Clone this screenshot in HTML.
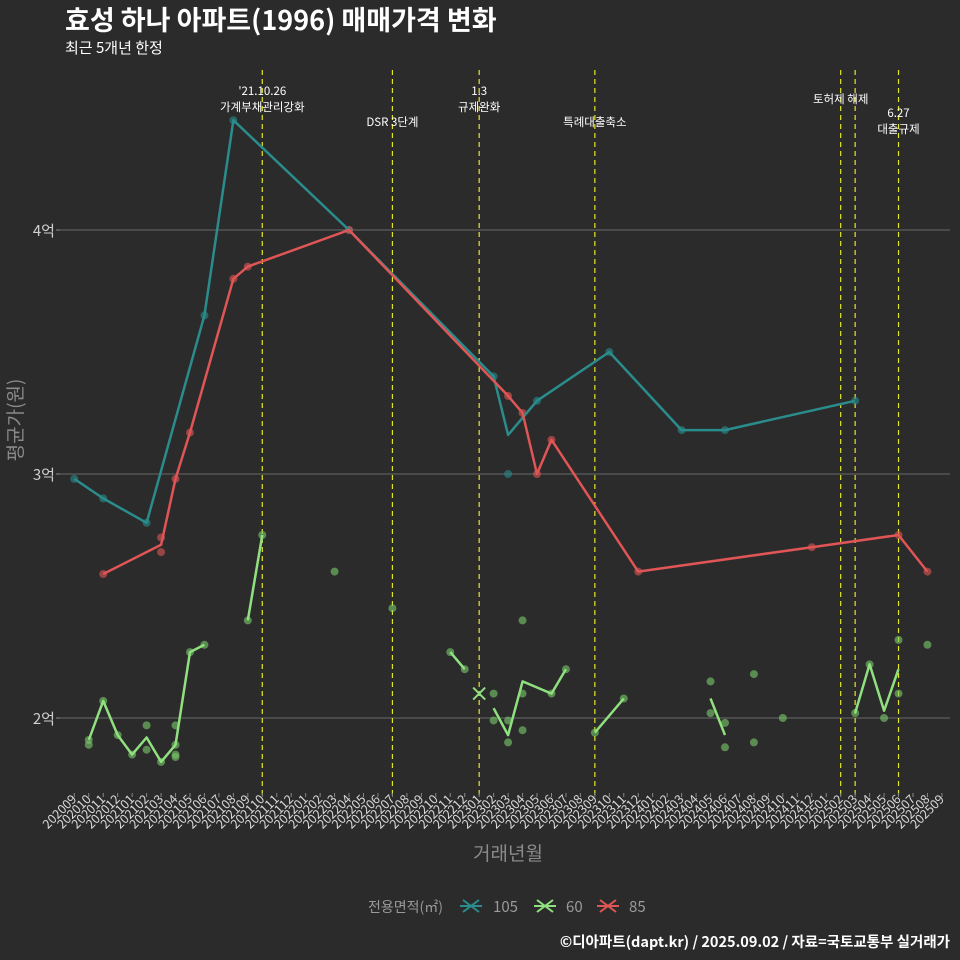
<!DOCTYPE html>
<html><head><meta charset="utf-8">
<style>
html,body{margin:0;padding:0;background:#2b2b2b;}
svg{display:block;font-family:"Noto Sans CJK KR","Liberation Sans",sans-serif;}
</style></head>
<body>
<svg id="chart" width="960" height="960" viewBox="0 0 960 960">
<rect width="960" height="960" fill="#2b2b2b"/>
<text x="65" y="30" font-size="27" font-weight="bold" fill="#ffffff">효성 하나 아파트(1996) 매매가격 변화</text>
<text x="65" y="53" font-size="15" fill="#ffffff">최근 5개년 한정</text>
<g id="grid"></g>
<g id="vlines"></g>
<g id="series"></g>
<g id="xaxis"></g>
<g id="yaxis"></g>
<text x="508" y="860" font-size="19" fill="#8a8a8a" text-anchor="middle">거래년월</text>
<text transform="translate(22,420) rotate(-90)" font-size="19" fill="#8a8a8a" text-anchor="middle">평균가(원)</text>
<g>
<text x="368" y="912" font-size="14" fill="#9a9a9a">전용면적(㎡)</text>
<g><path d="M460,906h22M463,900l16,12M463,912l16,-12" stroke="#2a8c8c" stroke-width="2"/><text x="493" y="912" font-size="15" fill="#9a9a9a">105</text></g>
<g><path d="M534,906h22M537,900l16,12M537,912l16,-12" stroke="#90e080" stroke-width="2"/><text x="566" y="912" font-size="15" fill="#9a9a9a">60</text></g>
<g><path d="M597,906h22M600,900l16,12M600,912l16,-12" stroke="#e05555" stroke-width="2"/><text x="629" y="912" font-size="15" fill="#9a9a9a">85</text></g>
</g>
<text x="950" y="947" font-size="14.5" font-weight="bold" fill="#ffffff" text-anchor="end">©디아파트(dapt.kr) / 2025.09.02 / 자료=국토교통부 실거래가</text>
</svg>
<script>
const months = [];
for (let y = 2020, m = 9; months.length < 61; ) { months.push(String(y) + String(m).padStart(2,'0')); m++; if (m > 12) { m = 1; y++; } }
const yTicks = [2, 3, 4];
const yTickLabels = ['2억', '3억', '4억'];
const line105 = [[0,2.98],[2,2.90],[5,2.80],[9,3.65],[11,4.45],[19,4.0],[29,3.40],[30,3.16],[32,3.30],[37,3.50],[42,3.18],[45,3.18],[54,3.30]];
const dots105 = [[0,2.98],[2,2.90],[5,2.80],[9,3.65],[11,4.45],[19,4.0],[29,3.40],[30,3.0],[32,3.30],[37,3.50],[42,3.18],[45,3.18],[54,3.30]];
const line85 = [[2,2.59],[6,2.71],[7,2.98],[8,3.17],[11,3.80],[12,3.85],[19,4.0],[30,3.32],[31,3.25],[32,3.0],[33,3.14],[39,2.60],[51,2.70],[57,2.75],[59,2.60]];
const dots85 = [[2,2.59],[6,2.74],[6,2.68],[7,2.98],[8,3.17],[11,3.80],[12,3.85],[19,4.0],[30,3.32],[31,3.25],[32,3.0],[33,3.14],[39,2.60],[51,2.70],[57,2.75],[59,2.60]];
const line60 = [[1,1.91],[2,2.07],[3,1.93],[4,1.85],[5,1.92],[6,1.82],[7,1.89],[8,2.27],[9,2.30],null,[12,2.40],[13,2.75],null,[26,2.27],[27,2.20],null,[29,2.04],[30,1.93],[31,2.15],[33,2.10],[34,2.20],null,[36,1.94],[38,2.08],null,[44,2.08],[45,1.93],null,[54,2.02],[55,2.22],[56,2.03],[57,2.20]];
const dots60 = [[1,1.91],[1,1.89],[2,2.07],[3,1.93],[4,1.85],[5,1.97],[5,1.87],[6,1.82],[7,1.97],[7,1.89],[7,1.84],[7,1.85],[8,2.27],[9,2.30],[12,2.40],[13,2.75],[18,2.60],[22,2.45],[26,2.27],[27,2.20],[29,2.10],[29,1.99],[30,1.99],[30,1.90],[31,2.10],[31,1.95],[31,2.40],[33,2.10],[34,2.20],[36,1.94],[38,2.08],[44,2.15],[44,2.02],[45,1.98],[45,1.88],[47,2.18],[47,1.90],[49,2.00],[54,2.02],[55,2.22],[56,2.00],[57,2.32],[57,2.10],[59,2.30]];
const highlight60 = [28, 2.10];
const events = [13, 22, 28, 36, 53, 54, 57];
const eventLabels = [["'21.10.26","가계부채관리강화"],["DSR 3단계"],["1.3","규제완화"],["특례대출축소"],["토허제 해제"],[],["6.27","대출규제"]];
const eventLabelY = [[91,107],[122],[91,107],[122],[99],[],[113,129]];

const NS = 'http://www.w3.org/2000/svg';
const X0 = 74.3, STEP = 14.46;
function xs(i){ return X0 + i*STEP; }
function ys(v){ return 474 - (v-3)*244; }
function mk(tag, attrs, parent){ const e=document.createElementNS(NS,tag); for(const k in attrs) e.setAttribute(k,attrs[k]); parent.appendChild(e); return e; }

const grid=document.getElementById('grid'), yaxis=document.getElementById('yaxis');
yTicks.forEach((t,i)=>{
  const l=mk('line',{x1:60,x2:950,y1:ys(t),y2:ys(t),stroke:'#6a6a6a','stroke-width':1},grid);
  
  
  const tk=mk('line',{x1:56,x2:60,y1:ys(t),y2:ys(t),stroke:'#888'},yaxis);
  
  
  const tx=mk('text',{x:55,y:ys(t)+6,'font-size':15,fill:'#cfcfcf','text-anchor':'end'},yaxis);
  tx.textContent=yTickLabels[i];
  
  
});
const xaxis=document.getElementById('xaxis');
months.forEach((m,i)=>{
  const tk=mk('line',{x1:xs(i),x2:xs(i),y1:793,y2:797,stroke:'#888'},xaxis);
  
  
  const tx=mk('text',{transform:`translate(${xs(i)+3},${800}) rotate(-45)`,'font-size':12.5,fill:'#d8d8d8','text-anchor':'end'},xaxis);
  tx.textContent=m;
  
  
});
const vl=document.getElementById('vlines');
events.forEach((e,i)=>{
  const l=mk('line',{x1:xs(e),x2:xs(e),y1:70,y2:797,stroke:'#e6e629','stroke-width':1.2,'stroke-dasharray':'5,4'},vl);
  
  
  eventLabels[i].forEach((s,j)=>{
    const t=mk('text',{x:xs(e),y:eventLabelY[i][j]+4,'font-size':11.5,fill:'#ffffff','text-anchor':'middle'},vl);
    t.textContent=s;
    
    
  });
});
const ser=document.getElementById('series');
function drawLine(data,color,name){
  let d='',pen=false;
  data.forEach(p=>{ if(!p){pen=false;return;} d+=(pen?'L':'M')+xs(p[0]).toFixed(1)+','+ys(p[1]).toFixed(1); pen=true; });
  const pth=mk('path',{d:d,fill:'none',stroke:color,'stroke-width':2.5,'stroke-linejoin':'round'},ser);
  
  
}
function drawDots(data,color,name){
  data.forEach(p=>{
    const c=mk('circle',{cx:xs(p[0]),cy:ys(p[1]),r:4,fill:color,'fill-opacity':0.6},ser);
    
    
  });
}
drawDots(dots105,'#2a8c8c','point-105');
drawDots(dots85,'#e05555','point-85');
drawDots(dots60,'#7acc6a','point-60');
drawLine(line105,'#2a8c8c','line-105');
drawLine(line85,'#e05555','line-85');
drawLine(line60,'#90e080','line-60');
const hx=xs(highlight60[0]), hy=ys(highlight60[1]);
const hm=mk('path',{d:`M${hx-6},${hy-6}L${hx+6},${hy+6}M${hx-6},${hy+6}L${hx+6},${hy-6}`,stroke:'#90e080','stroke-width':2},ser);


</script>
</body></html>
